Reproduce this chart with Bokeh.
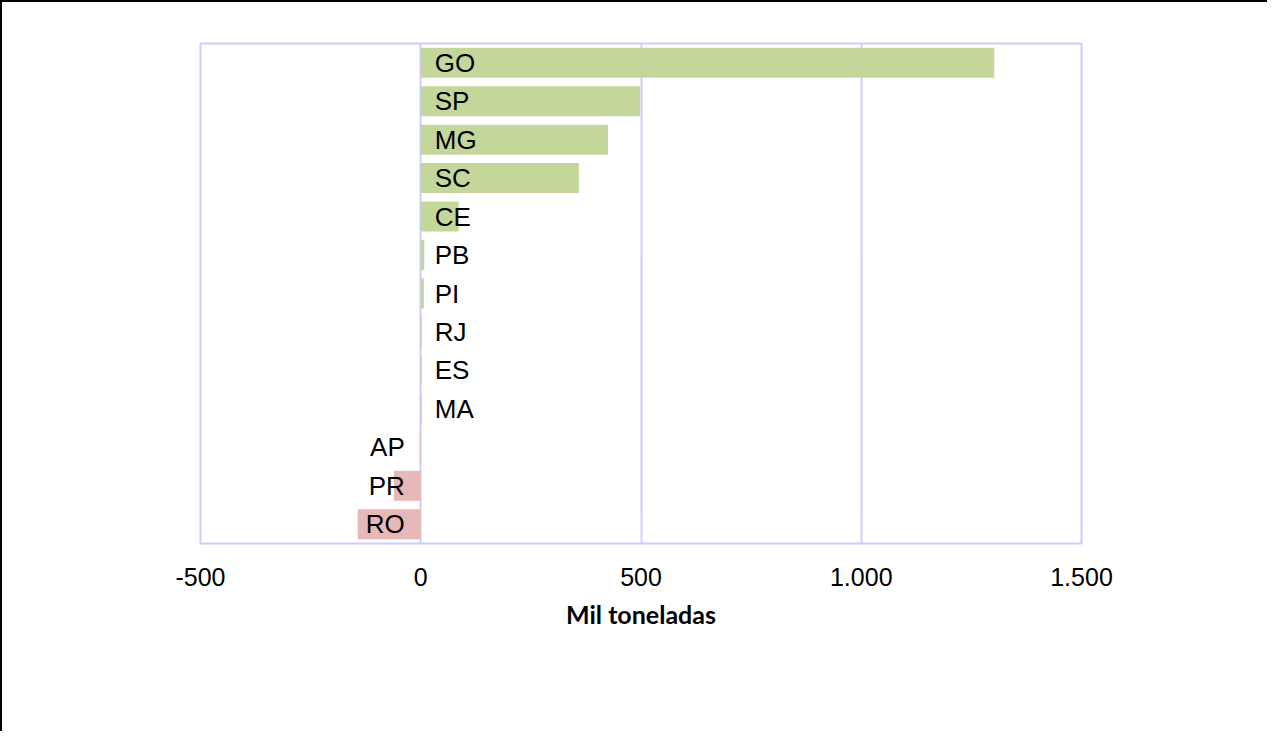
from bokeh.plotting import figure
from bokeh.models import ColumnDataSource, FactorRange, Range1d, FixedTicker
from bokeh.core.properties import value
from bokeh.embed import file_html
from bokeh.resources import INLINE

# data (top to bottom)
states = ["GO", "SP", "MG", "SC", "CE", "PB", "PI", "RJ", "ES", "MA", "AP", "PR", "RO"]
values = [1302, 498, 425, 359, 86, 8, 7, 2, 2, 2, -2, -61, -143]
tick_values = [-500, 0, 500, 1000, 1500]
tick_labels = ["-500", "0", "500", "1.000", "1.500"]
x_title = "Mil toneladas"

POS = "#C4D79B"
NEG = "#E6B8B7"
GRID = "#CCCCFF"

colors = [POS if v >= 0 else NEG for v in values]
zeros = [0] * len(values)
src = ColumnDataSource(dict(state=states, val=values, zero=zeros, color=colors))
pos_src = ColumnDataSource(dict(state=[s for s, v in zip(states, values) if v >= 0],
                                zero=[0 for v in values if v >= 0]))
neg_src = ColumnDataSource(dict(state=[s for s, v in zip(states, values) if v < 0],
                                zero=[0 for v in values if v < 0]))

p = figure(width=1267, height=731, output_backend="svg", toolbar_location=None,
           y_range=FactorRange(*reversed(states)), x_range=Range1d(-500, 1500),
           min_border_left=198, min_border_right=188, min_border_top=41, min_border_bottom=190)
p.styles = {"border-left": "2px solid black", "border-top": "2px solid black"}

p.hbar(y="state", left="zero", right="val", height=0.78, fill_color="color",
       line_color=None, source=src)

p.text(x="zero", y="state", text="state", source=pos_src, x_offset=14,
       text_align="left", text_baseline="middle", text_font=value("Liberation Sans"),
       text_font_size="26px", text_color="black")
p.text(x="zero", y="state", text="state", source=neg_src, x_offset=-16,
       text_align="right", text_baseline="middle", text_font=value("Liberation Sans"),
       text_font_size="26px", text_color="black")

p.yaxis.visible = False
p.ygrid.grid_line_color = None
p.xgrid.grid_line_color = GRID
p.xgrid.grid_line_width = 2
p.outline_line_color = GRID
p.outline_line_width = 2

xa = p.xaxis[0]
xa.ticker = FixedTicker(ticks=tick_values)
xa.major_label_overrides = {t: l for t, l in zip(tick_values, tick_labels)}
xa.axis_line_color = None
xa.major_tick_line_color = None
xa.minor_tick_line_color = None
xa.major_tick_in = 0
xa.major_tick_out = 0
xa.major_label_standoff = 24
xa.major_label_text_font = "Liberation Sans"
xa.major_label_text_font_size = "25px"
xa.major_label_text_color = "black"
xa.axis_label = x_title
xa.axis_label_text_font = "Lato"
xa.axis_label_text_font_style = "bold"
xa.axis_label_text_font_size = "25px"
xa.axis_label_text_color = "black"
xa.axis_label_standoff = 10

p.background_fill_color = "white"
p.border_fill_color = "white"

open("out.html", "w").write(file_html(p, INLINE))
